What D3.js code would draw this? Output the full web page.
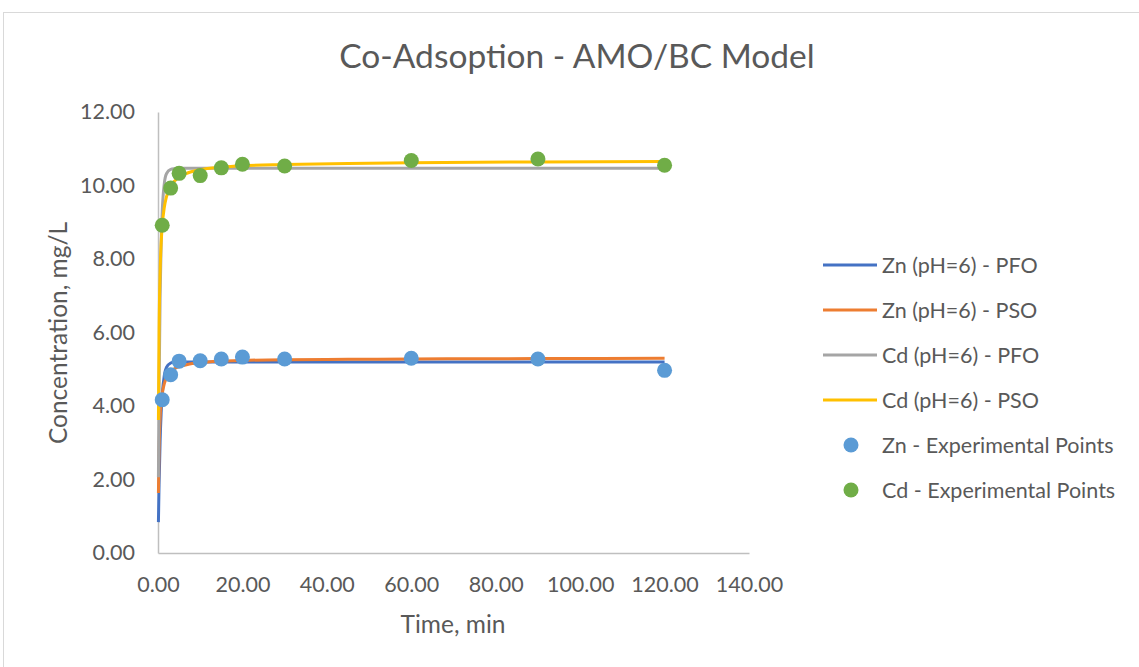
<!DOCTYPE html>
<html>
<head>
<meta charset="utf-8">
<script src="https://cdn.jsdelivr.net/npm/d3@7"></script>
<style>
  body { margin: 0; background: #fff; }
  svg { display: block; }
</style>
</head>
<body>
<div id="chart"></div>
<script>
// sampling times for the fitted model curves (min)
const modelTimes = [0.1, 0.25, 0.5, 0.75, 1, 1.5, 2, 3, 4, 5, 7, 10, 15, 20, 30, 45, 60, 90, 120];

// model curve values (mg/L)
const znPFO = [0.84, 1.86, 3.05, 3.82, 4.31, 4.84, 5.05, 5.17, 5.2, 5.2, 5.2, 5.2, 5.2, 5.2, 5.2, 5.2, 5.2, 5.2, 5.2];
const znPSO = [1.63, 2.79, 3.65, 4.08, 4.33, 4.61, 4.76, 4.93, 5.02, 5.07, 5.13, 5.18, 5.22, 5.24, 5.26, 5.27, 5.28, 5.29, 5.3];
const cdPFO = [2.06, 4.42, 6.97, 8.44, 9.29, 10.06, 10.32, 10.44, 10.46, 10.47, 10.47, 10.47, 10.47, 10.47, 10.47, 10.47, 10.47, 10.47, 10.47];
const cdPSO = [3.62, 5.99, 7.66, 8.44, 8.9, 9.41, 9.69, 9.98, 10.13, 10.23, 10.34, 10.43, 10.5, 10.54, 10.57, 10.6, 10.62, 10.64, 10.65];

// experimental points
const expTimes = [1, 3, 5, 10, 15, 20, 30, 60, 90, 120];
const znExp = [4.17, 4.85, 5.22, 5.23, 5.28, 5.33, 5.28, 5.3, 5.28, 4.97];
const cdExp = [8.92, 9.93, 10.33, 10.27, 10.48, 10.58, 10.53, 10.68, 10.72, 10.55];

const xTicks = [0, 20, 40, 60, 80, 100, 120, 140];
const yTicks = [0, 2, 4, 6, 8, 10, 12];

const lineSeries = [
    { name: "Zn (pH=6) - PFO", values: znPFO, color: "#4472C4" },
    { name: "Zn (pH=6) - PSO", values: znPSO, color: "#ED7D31" },
    { name: "Cd (pH=6) - PFO", values: cdPFO, color: "#A5A5A5" },
    { name: "Cd (pH=6) - PSO", values: cdPSO, color: "#FFC000" }
];
const pointSeries = [
    { name: "Zn - Experimental Points", values: znExp, color: "#5B9BD5" },
    { name: "Cd - Experimental Points", values: cdExp, color: "#70AD47" }
];

const width = 1139, height = 667;
const font = "Lato, 'Open Sans', sans-serif";
const textColor = "#595959";

const svg = d3.select("#chart").append("svg")
    .attr("width", width)
    .attr("height", height)
    .attr("font-family", font);

// outer chart frame
svg.append("rect")
    .attr("x", 3.5).attr("y", 12.5)
    .attr("width", width).attr("height", height)
    .attr("fill", "#fff")
    .attr("stroke", "#d9d9d9");

const x = d3.scaleLinear().domain([0, 140]).range([158, 749]);
const y = d3.scaleLinear().domain([0, 12]).range([553, 112]);

// title
svg.append("text")
    .attr("x", 577).attr("y", 68)
    .attr("text-anchor", "middle")
    .attr("font-size", 33.5)
    .attr("fill", textColor)
    .text("Co-Adsoption - AMO/BC Model");

// axes
const xAxis = svg.append("g")
    .attr("transform", `translate(0,${y(0)})`)
    .call(d3.axisBottom(x).tickValues(xTicks).tickFormat(d3.format(".2f")).tickSize(0).tickPadding(24));
const yAxis = svg.append("g")
    .attr("transform", `translate(${x(0)},0)`)
    .call(d3.axisLeft(y).tickValues(yTicks).tickFormat(d3.format(".2f")).tickSize(0).tickPadding(23));

[xAxis, yAxis].forEach(g => {
    g.select(".domain").attr("stroke", "#bfbfbf").attr("stroke-width", 1.5);
    g.selectAll("text").attr("fill", textColor).attr("font-size", 21.5).attr("font-family", font);
});

// axis titles
svg.append("text")
    .attr("x", 453).attr("y", 633)
    .attr("text-anchor", "middle")
    .attr("font-size", 24.5)
    .attr("fill", textColor)
    .text("Time, min");
svg.append("text")
    .attr("transform", "translate(67,333) rotate(-90)")
    .attr("text-anchor", "middle")
    .attr("font-size", 24.5)
    .attr("fill", textColor)
    .text("Concentration, mg/L");

// model curves
const line = d3.line()
    .x((d, i) => x(modelTimes[i]))
    .y(d => y(d))
    .curve(d3.curveMonotoneX);

svg.append("g").selectAll("path.model")
    .data(lineSeries)
    .join("path")
    .attr("class", "model")
    .attr("d", d => line(d.values))
    .attr("fill", "none")
    .attr("stroke", d => d.color)
    .attr("stroke-width", 3)
    .attr("stroke-linejoin", "round");

// experimental points
pointSeries.forEach(s => {
    svg.append("g").selectAll("circle")
        .data(s.values)
        .join("circle")
        .attr("cx", (d, i) => x(expTimes[i]))
        .attr("cy", d => y(d))
        .attr("r", 7.5)
        .attr("fill", s.color);
});

// legend
const legend = svg.append("g").attr("transform", "translate(823,265)");
const rowGap = 45;
lineSeries.forEach((s, i) => {
    const g = legend.append("g").attr("transform", `translate(0,${i * rowGap})`);
    g.append("line").attr("x1", 0).attr("x2", 54).attr("y1", 0).attr("y2", 0)
        .attr("stroke", s.color).attr("stroke-width", 3);
    g.append("text").attr("x", 59).attr("y", 0).attr("dy", "0.35em")
        .attr("font-size", 21.5).attr("fill", textColor).text(s.name);
});
pointSeries.forEach((s, j) => {
    const g = legend.append("g").attr("transform", `translate(0,${(j + 4) * rowGap})`);
    g.append("circle").attr("cx", 28).attr("cy", 0).attr("r", 7.5).attr("fill", s.color);
    g.append("text").attr("x", 59).attr("y", 0).attr("dy", "0.35em")
        .attr("font-size", 21.5).attr("fill", textColor).text(s.name);
});
</script>
</body>
</html>
